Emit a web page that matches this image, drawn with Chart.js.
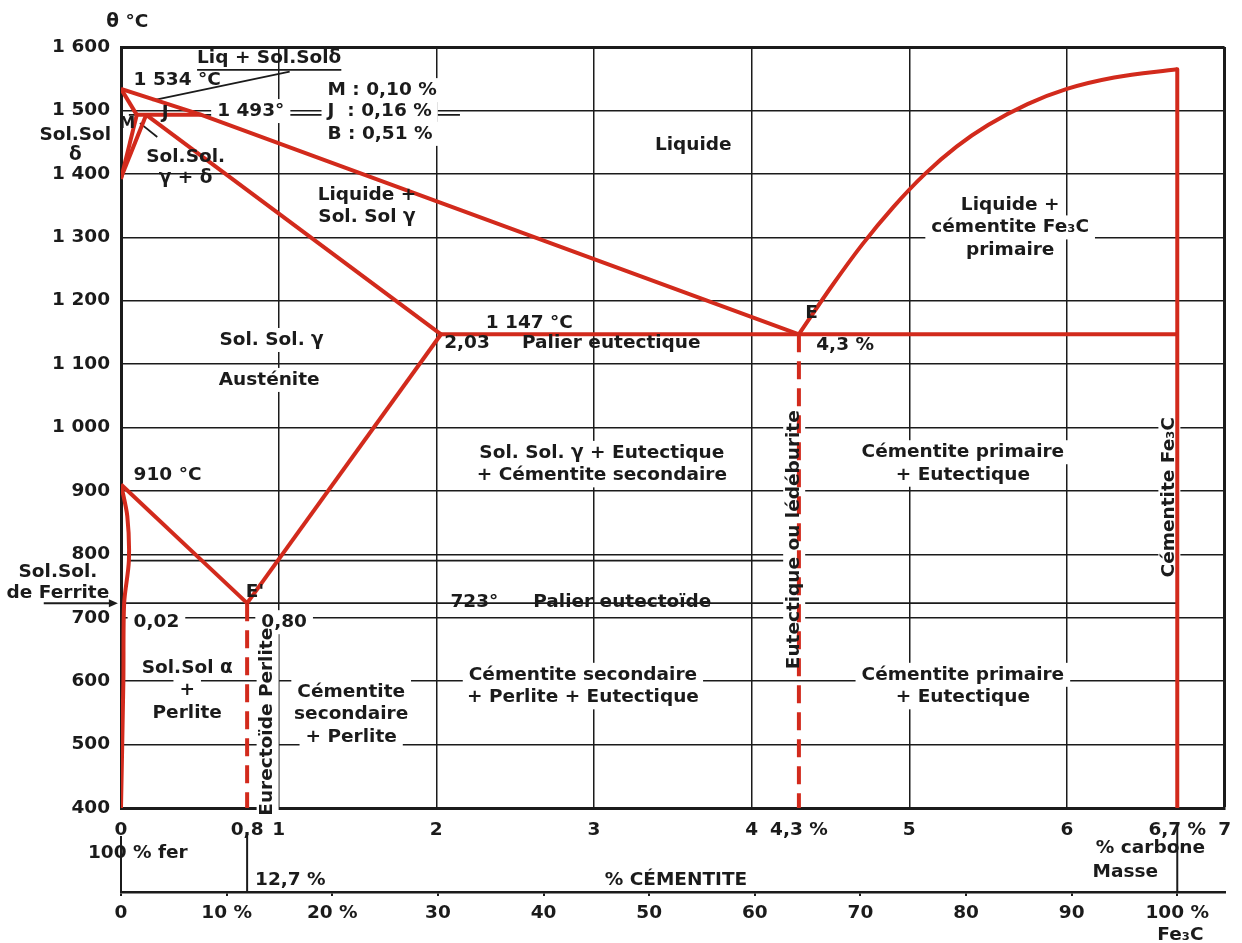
<!DOCTYPE html>
<html lang="fr">
<head>
<meta charset="UTF-8">
<title>Diagramme fer - carbone</title>
<style>
  html, body { margin: 0; padding: 0; background: #fff; }
  #wrap { width: 1242px; height: 943px; }
</style>
<script src="https://cdn.jsdelivr.net/npm/chart.js"></script>
</head>
<body>
<div id="wrap"><canvas id="fec"></canvas></div>
<script>
// Axes : température (°C), % carbone, % cémentite
const tempTicks = [400, 500, 600, 700, 800, 900, 1000, 1100, 1200, 1300, 1400, 1500, 1600];
const carbonTicks = [0, 0.8, 1, 2, 3, 4, 4.3, 5, 6, 6.7, 7];
const carbonLabels = ['0', '0,8', '1', '2', '3', '4', '4,3 %', '5', '6', '6,7 %', '7'];
const cementiteTicks = [0, 10, 20, 30, 40, 50, 60, 70, 80, 90, 100];
const cementiteLabels = ['0', '10 %', '20 %', '30', '40', '50', '60', '70', '80', '90', '100 %'];

// Lignes du diagramme (% C, °C)
const liquidusC = [0, 0.51, 4.3];
const liquidusT = [1534, 1493, 1147];
const liquidusFe3cC = [4.3, 4.5, 4.7, 4.9, 5.1, 5.3, 5.5, 5.75, 6.0, 6.3, 6.7];
const liquidusFe3cT = [1147, 1220, 1288, 1348, 1400, 1443, 1477, 1510, 1534, 1552, 1565];
const cementiteC = [6.7, 6.7];
const cementiteT = [1565, 400];
const eutectiqueC = [2.03, 6.7];
const eutectiqueT = [1147, 1147];
const solidusC = [0.16, 2.03];
const solidusT = [1493, 1147];
const acmC = [2.03, 0.8];
const acmT = [1147, 723];
const a3C = [0, 0.8];
const a3T = [910, 723];
const ferriteC = [0, 0.04, 0.05, 0.02, 0.015, 0];
const ferriteT = [910, 860, 790, 723, 600, 400];
const deltaSolC = [0, 0.1];
const deltaSolT = [1534, 1493];
const deltaM_C = [0.1, 0];
const deltaM_T = [1493, 1392];
const deltaJ_C = [0.16, 0];
const deltaJ_T = [1493, 1394];
const peritectiqueC = [0.1, 0.51];
const peritectiqueT = [1493, 1493];
const perliteC = [0.8, 0.8];
const perliteT = [723, 400];
const ledeburiteC = [4.3, 4.3];
const ledeburiteT = [1147, 400];

// Traits fins noirs
const palier723C = [0, 6.7];
const palier723T = [723, 723];
const trait790C = [0.05, 4.25];
const trait790T = [790, 790];
const repere1493C = [0.05, 2.15];
const repere1493T = [1493, 1493];
const flecheLiqC = [1.07, 0.2];
const flecheLiqT = [1561, 1516];
const flecheMC = [0.12, 0.23];
const flecheMT = [1480, 1458];

const RED = '#d22a1c';
const INK = '#1b1b1b';
const FONT = '"DejaVu Sans", sans-serif';
const SIZE = 18.5;
const LH = 22.5;

function pts(xs, ys) {
    return xs.map((x, i) => ({ x: x, y: ys[i] }));
}

function trace(label, xs, ys, extra) {
    return Object.assign({
        label: label,
        data: pts(xs, ys),
        showLine: true,
        borderColor: RED,
        borderWidth: 4,
        borderJoinStyle: 'round',
        pointRadius: 0,
        fill: false,
        tension: 0,
        order: 1
    }, extra || {});
}

function trait(label, xs, ys) {
    return trace(label, xs, ys, { borderColor: INK, borderWidth: 1.8, order: 2 });
}

// Textes posés sur le diagramme, en coordonnées (% C, °C)
const annotations = [
    { t: 'θ °C', x: 0.04, y: 1639 },
    { t: 'Liq + Sol.Solδ', x: 0.94, y: 1583, underline: true },
    { t: '1 534 °C', x: 0.08, y: 1548, align: 'left' },
    { t: 'M : 0,10 %', x: 1.31, y: 1532, align: 'left', bg: true },
    { t: 'J  : 0,16 %', x: 1.31, y: 1499, align: 'left', bg: true },
    { t: 'B : 0,51 %', x: 1.31, y: 1463, align: 'left', bg: true },
    { t: '1 493°', x: 0.61, y: 1499, align: 'left', bg: true },
    { t: 'J', x: 0.28, y: 1496 },
    { t: 'M', x: 0.04, y: 1479, size: 16 },
    { t: ['Sol.Sol', 'δ'], x: -0.29, y: 1461, lh: 20 },
    { t: ['Sol.Sol.', 'γ + δ'], x: 0.41, y: 1427, lh: 21 },
    { t: 'Liquide', x: 3.63, y: 1445 },
    { t: ['Liquide +', 'Sol. Sol γ'], x: 1.56, y: 1367 },
    { t: ['Liquide +', 'cémentite Fe₃C', 'primaire'], x: 5.64, y: 1351, bg: true },
    { t: 'E', x: 4.38, y: 1181 },
    { t: '4,3 %', x: 4.41, y: 1130, align: 'left' },
    { t: '1 147 °C', x: 2.59, y: 1165 },
    { t: '2,03', x: 2.05, y: 1133, align: 'left' },
    { t: 'Palier eutectique', x: 3.11, y: 1133 },
    { t: 'Sol. Sol. γ', x: 0.955, y: 1138, bg: true },
    { t: 'Austénite', x: 0.94, y: 1075, bg: true },
    { t: ['Sol. Sol. γ + Eutectique', '+ Cémentite secondaire'], x: 3.05, y: 960, bg: true },
    { t: ['Cémentite primaire', '+ Eutectique'], x: 5.34, y: 961, bg: true },
    { t: 'Eutectique ou lédéburite', x: 4.27, y: 823, rot: true, bg: true },
    { t: 'Cémentite Fe₃C', x: 6.65, y: 890, rot: true, bg: true },
    { t: '910 °C', x: 0.08, y: 925, align: 'left' },
    { t: "E'", x: 0.85, y: 741 },
    { t: '0,02', x: 0.08, y: 693, align: 'left', bg: true },
    { t: '0,80', x: 0.89, y: 693, align: 'left', bg: true },
    { t: '723°', x: 2.09, y: 725, align: 'left' },
    { t: 'Palier eutectoïde', x: 3.18, y: 725 },
    { t: ['Cémentite secondaire', '+ Perlite + Eutectique'], x: 2.93, y: 610, bg: true },
    { t: ['Cémentite primaire', '+ Eutectique'], x: 5.34, y: 610, bg: true },
    { t: ['Sol.Sol α', '+', 'Perlite'], x: 0.42, y: 621, bg: true },
    { t: 'Eurectoïde Perlite', x: 0.93, y: 536, rot: true, bg: true },
    { t: ['Cémentite', 'secondaire', '+ Perlite'], x: 1.46, y: 583, bg: true },
    { t: ['Sol.Sol.', 'de Ferrite'], x: -0.40, y: 772, lh: 21 },
    { t: '100 % fer', x: -0.21, y: 329, align: 'left' },
    { t: '12,7 %', x: 0.85, y: 286, align: 'left' },
    { t: '% CÉMENTITE', x: 3.52, y: 286 },
    { t: '% carbone', x: 6.53, y: 337 },
    { t: 'Masse', x: 6.37, y: 298 },
    { t: 'Fe₃C', x: 6.72, y: 200 }
];

function fontOf(a) {
    return 'bold ' + (a.size || SIZE) + 'px ' + FONT;
}

function eachLine(chart, a, fn) {
    const px = chart.scales.x.getPixelForValue(a.x);
    const py = chart.scales.y.getPixelForValue(a.y);
    const lines = Array.isArray(a.t) ? a.t : [a.t];
    lines.forEach((s, i) => fn(s, px, py + i * (a.lh || LH)));
}

function drawBackgrounds(chart) {
    const ctx = chart.ctx;
    ctx.save();
    ctx.fillStyle = '#ffffff';
    annotations.filter(a => a.bg).forEach(a => {
        ctx.font = fontOf(a);
        eachLine(chart, a, (s, px, py) => {
            const w = ctx.measureText(s).width;
            const x0 = a.align === 'left' ? 0 : -w / 2;
            if (a.rot) {
                ctx.save();
                ctx.translate(px, py);
                ctx.rotate(-Math.PI / 2);
                ctx.fillRect(x0 - 4, -11, w + 8, 22);
                ctx.restore();
            } else {
                ctx.fillRect(px + x0 - 6, py - 12, w + 12, 24);
            }
        });
    });
    ctx.restore();
}

function drawTexts(chart) {
    const ctx = chart.ctx;
    ctx.save();
    ctx.fillStyle = INK;
    ctx.strokeStyle = INK;
    ctx.textBaseline = 'middle';
    annotations.forEach(a => {
        ctx.font = fontOf(a);
        ctx.textAlign = a.align || 'center';
        eachLine(chart, a, (s, px, py) => {
            if (a.rot) {
                ctx.save();
                ctx.translate(px, py);
                ctx.rotate(-Math.PI / 2);
                ctx.fillText(s, 0, 0);
                ctx.restore();
                return;
            }
            ctx.fillText(s, px, py);
            if (a.underline) {
                const w = ctx.measureText(s).width;
                const x0 = a.align === 'left' ? px : px - w / 2;
                ctx.lineWidth = 1.8;
                ctx.beginPath();
                ctx.moveTo(x0, py + 12);
                ctx.lineTo(x0 + w, py + 12);
                ctx.stroke();
            }
        });
    });
    ctx.restore();
}

// Renvois vers l'échelle de cémentite et flèche de la ferrite
function drawExtras(chart) {
    const ctx = chart.ctx;
    const sx = chart.scales.x, sy = chart.scales.y, s2 = chart.scales.x2;
    ctx.save();
    ctx.strokeStyle = INK;
    ctx.fillStyle = INK;
    ctx.lineWidth = 2;
    [[0, 28], [0.8, 26], [6.7, 14]].forEach(([c, off]) => {
        const px = sx.getPixelForValue(c);
        ctx.beginPath();
        ctx.moveTo(px, sx.top + off);
        ctx.lineTo(px, s2.top);
        ctx.stroke();
    });
    const y723 = sy.getPixelForValue(723);
    const xa = sx.getPixelForValue(-0.49), xb = sx.getPixelForValue(-0.02);
    ctx.beginPath();
    ctx.moveTo(xa, y723);
    ctx.lineTo(xb - 6, y723);
    ctx.stroke();
    ctx.beginPath();
    ctx.moveTo(xb, y723);
    ctx.lineTo(xb - 9, y723 - 4);
    ctx.lineTo(xb - 9, y723 + 4);
    ctx.closePath();
    ctx.fill();
    ctx.restore();
}

let fondFait = false;
const legendesPlugin = {
    id: 'legendesDiagramme',
    beforeDatasetsDraw() { fondFait = false; },
    beforeDatasetDraw(chart, args) {
        if (fondFait || chart.data.datasets[args.index].order !== 1) return;
        fondFait = true;
        drawBackgrounds(chart);
    },
    afterDatasetsDraw(chart) {
        drawTexts(chart);
        drawExtras(chart);
    }
};

const tickFont = { family: FONT, size: SIZE, weight: 'bold' };

new Chart(document.getElementById('fec'), {
    type: 'scatter',
    data: {
        datasets: [
            trace('Liquidus', liquidusC, liquidusT),
            trace('Liquidus Fe3C', liquidusFe3cC, liquidusFe3cT, { cubicInterpolationMode: 'monotone' }),
            trace('Cémentite', cementiteC, cementiteT),
            trace('Palier eutectique', eutectiqueC, eutectiqueT),
            trace('Solidus', solidusC, solidusT),
            trace('Acm', acmC, acmT),
            trace('A3', a3C, a3T),
            trace('Ferrite', ferriteC, ferriteT, { tension: 0.3 }),
            trace('Delta solidus', deltaSolC, deltaSolT),
            trace('Delta M', deltaM_C, deltaM_T),
            trace('Delta J', deltaJ_C, deltaJ_T),
            trace('Palier péritectique', peritectiqueC, peritectiqueT),
            trace('Perlite', perliteC, perliteT, { borderDash: [18, 9] }),
            trace('Lédéburite', ledeburiteC, ledeburiteT, { borderDash: [18, 9] }),
            trait('Palier eutectoïde', palier723C, palier723T),
            trait('Trait 790', trait790C, trait790T),
            trait('Repère 1493', repere1493C, repere1493T),
            trait('Flèche Liq', flecheLiqC, flecheLiqT),
            trait('Flèche M', flecheMC, flecheMT)
        ]
    },
    options: {
        responsive: true,
        maintainAspectRatio: false,
        animation: false,
        layout: { padding: { top: 47, right: 14, bottom: 0, left: 0 } },
        plugins: {
            legend: { display: false },
            tooltip: { enabled: false }
        },
        scales: {
            x: {
                type: 'linear',
                position: 'bottom',
                weight: 0,
                min: 0,
                max: 7,
                afterBuildTicks: s => { s.ticks = carbonTicks.map(v => ({ value: v })); },
                afterFit: s => { s.height = 84; },
                ticks: {
                    autoSkip: false,
                    maxRotation: 0,
                    padding: 11,
                    color: INK,
                    font: tickFont,
                    callback: v => carbonLabels[carbonTicks.indexOf(v)]
                },
                grid: {
                    drawTicks: false,
                    color: c => (Number.isInteger(c.tick.value) && c.tick.value > 0) ? INK : 'rgba(0,0,0,0)',
                    lineWidth: c => c.tick.value === 7 ? 3 : 1.5
                },
                border: { display: true, color: INK, width: 3 }
            },
            x2: {
                type: 'linear',
                position: 'bottom',
                weight: 1,
                min: 0,
                max: 100 * 7 / 6.7,
                afterBuildTicks: s => { s.ticks = cementiteTicks.map(v => ({ value: v })); },
                afterFit: s => { s.height = 51; },
                ticks: {
                    autoSkip: false,
                    maxRotation: 0,
                    padding: 6,
                    color: INK,
                    font: tickFont,
                    callback: v => cementiteLabels[cementiteTicks.indexOf(v)]
                },
                grid: { display: true, drawOnChartArea: false, tickLength: 4, color: INK, lineWidth: 2 },
                border: { display: true, color: INK, width: 2.5 }
            },
            y: {
                type: 'linear',
                position: 'left',
                min: 400,
                max: 1600,
                afterBuildTicks: s => { s.ticks = tempTicks.map(v => ({ value: v })); },
                afterFit: s => { s.width = 121; },
                ticks: {
                    padding: 11,
                    color: INK,
                    font: tickFont,
                    callback: v => v >= 1000 ? Math.floor(v / 1000) + ' ' + String(v % 1000).padStart(3, '0') : String(v)
                },
                grid: {
                    drawTicks: false,
                    color: INK,
                    lineWidth: c => c.tick.value === 1600 ? 3 : 1.5
                },
                border: { display: true, color: INK, width: 3 }
            }
        }
    },
    plugins: [legendesPlugin]
});
</script>
</body>
</html>
